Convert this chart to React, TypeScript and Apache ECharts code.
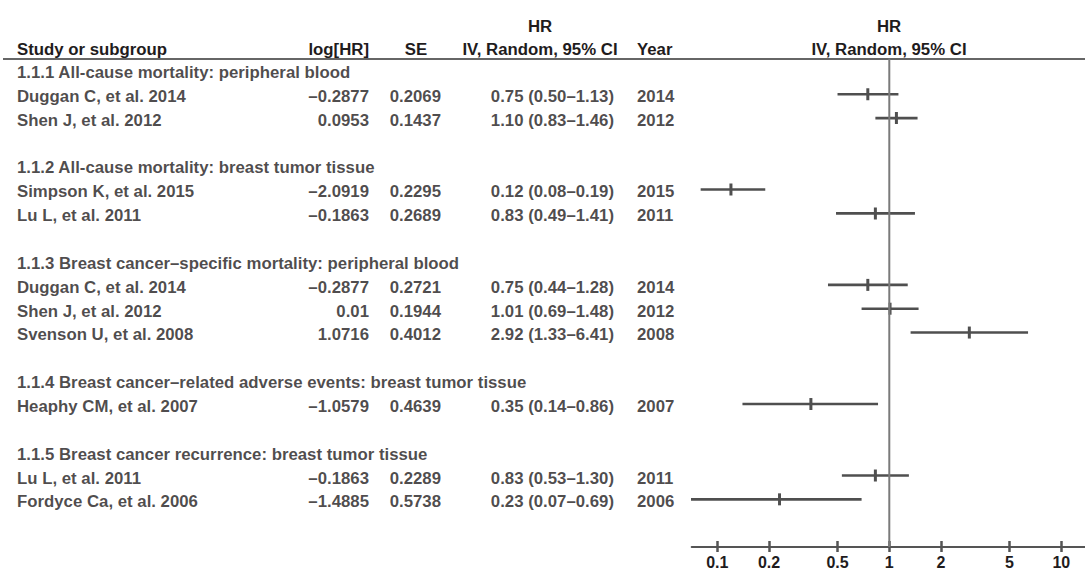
import React, { useEffect, useRef } from "react";
import * as echarts from "echarts";

// ---------- data ----------
const groupTitles = [
  "1.1.1 All-cause mortality: peripheral blood",
  "1.1.2 All-cause mortality: breast tumor tissue",
  "1.1.3 Breast cancer–specific mortality: peripheral blood",
  "1.1.4 Breast cancer–related adverse events: breast tumor tissue",
  "1.1.5 Breast cancer recurrence: breast tumor tissue",
];
const groupRows = [0, 4, 8, 13, 16];

const studyNames = [
  "Duggan C, et al. 2014",
  "Shen J, et al. 2012",
  "Simpson K, et al. 2015",
  "Lu L, et al. 2011",
  "Duggan C, et al. 2014",
  "Shen J, et al. 2012",
  "Svenson U, et al. 2008",
  "Heaphy CM, et al. 2007",
  "Lu L, et al. 2011",
  "Fordyce Ca, et al. 2006",
];
const studyRows = [1, 2, 5, 6, 9, 10, 11, 14, 17, 18];
const logHR = [-0.2877, 0.0953, -2.0919, -0.1863, -0.2877, 0.01, 1.0716, -1.0579, -0.1863, -1.4885];
const seVals = [0.2069, 0.1437, 0.2295, 0.2689, 0.2721, 0.1944, 0.4012, 0.4639, 0.2289, 0.5738];
const hrVals = [0.75, 1.1, 0.12, 0.83, 0.75, 1.01, 2.92, 0.35, 0.83, 0.23];
const ciLow = [0.5, 0.83, 0.08, 0.49, 0.44, 0.69, 1.33, 0.14, 0.53, 0.07];
const ciHigh = [1.13, 1.46, 0.19, 1.41, 1.28, 1.48, 6.41, 0.86, 1.3, 0.69];
const years = [2014, 2012, 2015, 2011, 2014, 2012, 2008, 2007, 2011, 2006];

const axisTickValues = [0.1, 0.2, 0.5, 1, 2, 5, 10];
const axisTickLabels = ["0.1", "0.2", "0.5", "1", "2", "5", "10"];

// ---------- layout / style ----------
const FONT = "'Liberation Sans', Arial, Helvetica, sans-serif";
const FS = 16.8;
const TXT = "#1f1c1d";
const GRID_TOP = 46.6;
const GRID_H = 501.1;
const ROW_MIN = -1;
const ROW_MAX = 20;
const PLOT_LEFT = 691.7;
const PLOT_W = 393.3;
const X_MIN = -1.149;
const X_MAX = 1.138;
const COL = { study: 17, log: 369, se: 441, hr: 614, year: 637 };
const AXIS_GREY = "#555555";

const log10 = (v: number) => Math.log10(v);
const fmtSigned = (v: number) => String(v).replace("-", "–");
const fmtCI = (i: number) =>
  `${hrVals[i].toFixed(2)} (${ciLow[i].toFixed(2)}–${ciHigh[i].toFixed(2)})`;

function textSeries(
  x: number,
  rows: number[],
  texts: string[],
  align: "left" | "right"
) {
  return {
    type: "scatter",
    xAxisIndex: 0,
    yAxisIndex: 0,
    symbolSize: 0,
    silent: true,
    data: rows.map((r, i) => ({ value: [x, r], name: texts[i] })),
    label: {
      show: true,
      position: align === "left" ? "right" : "left",
      distance: 0,
      formatter: (p: any) => p.name,
      color: TXT,
      fontFamily: FONT,
      fontWeight: "bold",
      fontSize: FS,
      offset: [0, 2],
    },
  };
}

const tickLabelFor = (v: number) => {
  let best = 0;
  axisTickValues.forEach((t, i) => {
    if (Math.abs(log10(t) - v) < Math.abs(log10(axisTickValues[best]) - v)) best = i;
  });
  return axisTickLabels[best];
};

export default function App() {
  const ref = useRef<HTMLDivElement>(null);
  useEffect(() => {
    document.body.style.margin = "0";
    if (!ref.current) return;
    const chart = echarts.init(ref.current, undefined, { renderer: "svg" });

    const forestData = studyRows.map((r, i) => [
      log10(ciLow[i]),
      log10(ciHigh[i]),
      log10(hrVals[i]),
      r,
    ]);

    const headerText = (
      text: string,
      x: number,
      y: number,
      align: "left" | "right" | "center"
    ) => ({
      type: "text",
      x,
      y,
      silent: true,
      style: {
        text,
        fill: TXT,
        font: `bold ${FS}px ${FONT}`,
        textAlign: align,
        textVerticalAlign: "middle",
      },
    });

    const yAxisBase = {
      type: "value",
      inverse: true,
      min: ROW_MIN,
      max: ROW_MAX,
      show: false,
    };

    const tickVals = axisTickValues.map(log10);

    chart.setOption({
      animation: false,
      backgroundColor: "#ffffff",
      grid: [
        { left: 0, top: GRID_TOP, width: 680, height: GRID_H },
        { left: PLOT_LEFT, top: GRID_TOP, width: PLOT_W, height: GRID_H },
      ],
      xAxis: [
        { type: "value", gridIndex: 0, min: 0, max: 680, show: false },
        {
          type: "value",
          gridIndex: 1,
          position: "bottom",
          min: X_MIN,
          max: X_MAX,
          axisLine: { show: true, onZero: false, lineStyle: { color: AXIS_GREY, width: 2 } },
          axisTick: {
            show: true,
            inside: true,
            length: 6,
            customValues: tickVals,
            lineStyle: { color: AXIS_GREY, width: 2.5 },
          },
          axisLabel: {
            show: true,
            customValues: tickVals,
            formatter: tickLabelFor,
            color: TXT,
            fontFamily: FONT,
            fontWeight: "bold",
            fontSize: 16,
            margin: 7,
          },
          splitLine: { show: false },
        },
        {
          type: "value",
          gridIndex: 1,
          position: "bottom",
          offset: 0,
          min: X_MIN,
          max: X_MAX,
          axisLine: { show: false, onZero: false },
          axisTick: {
            show: true,
            inside: false,
            length: 5,
            customValues: tickVals,
            lineStyle: { color: AXIS_GREY, width: 2.5 },
          },
          axisLabel: { show: false },
          splitLine: { show: false },
        },
      ],
      yAxis: [
        { ...yAxisBase, gridIndex: 0 },
        { ...yAxisBase, gridIndex: 1 },
      ],
      series: [
        textSeries(COL.study, groupRows, groupTitles, "left"),
        textSeries(COL.study, studyRows, studyNames, "left"),
        textSeries(COL.log, studyRows, logHR.map(fmtSigned), "right"),
        textSeries(COL.se, studyRows, seVals.map((v) => v.toFixed(4)), "right"),
        textSeries(COL.hr, studyRows, studyRows.map((_, i) => fmtCI(i)), "right"),
        textSeries(COL.year, studyRows, years.map(String), "left"),
        {
          type: "line",
          xAxisIndex: 1,
          yAxisIndex: 1,
          symbol: "none",
          silent: true,
          data: [
            [0, -0.5],
            [0, ROW_MAX],
          ],
          lineStyle: { color: "#7a7a7a", width: 2 },
        },
        {
          type: "custom",
          xAxisIndex: 1,
          yAxisIndex: 1,
          clip: true,
          silent: true,
          data: forestData,
          encode: { x: [0, 1, 2], y: 3 },
          renderItem: (params: any, api: any) => {
            const row = api.value(3);
            const p1 = api.coord([api.value(0), row]);
            const p2 = api.coord([api.value(1), row]);
            const pm = api.coord([api.value(2), row]);
            return {
              type: "group",
              children: [
                {
                  type: "line",
                  shape: { x1: p1[0], y1: p1[1], x2: p2[0], y2: p2[1] },
                  style: { stroke: "#4f4f4f", lineWidth: 2.6 },
                },
                {
                  type: "rect",
                  shape: { x: pm[0] - 1.5, y: pm[1] - 6, width: 3, height: 12 },
                  style: { fill: "#4f4f4f" },
                },
              ],
            };
          },
        },
      ],
      graphic: [
        headerText("HR", 540, 26, "center"),
        headerText("Study or subgroup", COL.study, 49.5, "left"),
        headerText("log[HR]", COL.log, 49.5, "right"),
        headerText("SE", 416, 49.5, "center"),
        headerText("IV, Random, 95% CI", 540, 49.5, "center"),
        headerText("Year", COL.year, 49.5, "left"),
        headerText("HR", 889, 26, "center"),
        headerText("IV, Random, 95% CI", 889, 49.5, "center"),
        {
          type: "line",
          silent: true,
          shape: { x1: 3, y1: 59, x2: 1085, y2: 59 },
          style: { stroke: "#666666", lineWidth: 2.2 },
        },
      ],
    });
    return () => chart.dispose();
  }, []);

  return <div ref={ref} style={{ width: 1085, height: 570 }} />;
}
